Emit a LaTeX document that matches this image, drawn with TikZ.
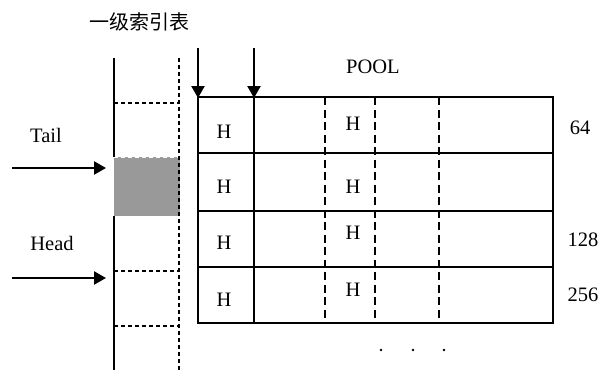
\documentclass[tikz,border=0pt]{standalone}
\usepackage{fontspec}
\setmainfont{Liberation Serif}
\newfontfamily\cjk{Noto Sans CJK SC}
\usetikzlibrary{arrows.meta}
\begin{document}
\begin{tikzpicture}[x=1pt,y=-1pt,
  lbl/.style={inner sep=0pt,font=\fontsize{20.5}{22}\selectfont},
  thick line/.style={line width=2.5pt},
  pooldash/.style={line width=2.5pt,dash pattern=on 8pt off 4.5pt},
  idxdash/.style={line width=1.3pt,dash pattern=on 4pt off 3pt},
  arr/.style={line width=2.4pt,-{Triangle[length=12pt,width=13pt]}},
  dot/.style={circle,fill=black,inner sep=0pt,minimum size=2.6pt}]
\useasboundingbox (0,0) rectangle (607,370);
% title
\node[inner sep=0pt,font=\cjk\fontsize{20}{22}\selectfont] (title) at (139,22) {一级索引表};
% index column
\fill[fill={rgb,255:red,153;green,153;blue,153}] (114,157) rectangle (180,216);
\draw[idxdash,white] (114,157.5) -- (180,157.5);
\draw[idxdash] (179,58) -- (179,370);
\draw[idxdash] (114,103) -- (179,103);
\draw[idxdash] (114,271) -- (179,271);
\draw[idxdash] (114,326) -- (179,326);
\draw[line width=2.4pt] (114,58) -- (114,157) (114,216) -- (114,370);
% tail/head
\node[lbl] (tail) at (46,135) {Tail};
\node[lbl] (head) at (52,243) {Head};
\coordinate (ts) at (12,168); \coordinate (te) at (106,168);
\coordinate (hs) at (12,278); \coordinate (he) at (106,278);
\draw[arr] (ts) -- (te);
\draw[arr] (hs) -- (he);
% pool grid
\foreach \y in {97,153,211,267,323} \draw[thick line] (196.75,\y) -- (554.25,\y);
\draw[thick line] (198,97) -- (198,323);
\draw[thick line] (254,97) -- (254,323);
\draw[thick line] (553,97) -- (553,323);
\foreach \x in {325,375,439} \draw[pooldash] (\x,97) -- (\x,323);
% down arrows
\coordinate (a1s) at (198,48); \coordinate (a1e) at (198,98);
\coordinate (a2s) at (254,48); \coordinate (a2e) at (254,98);
\draw[arr] (a1s) -- (a1e);
\draw[arr] (a2s) -- (a2e);
\node[lbl] (pool) at (373,67) {POOL};
% H labels
\node[lbl] (h11) at (224,132) {H};
\node[lbl] (h21) at (224,187) {H};
\node[lbl] (h31) at (224,243) {H};
\node[lbl] (h41) at (224,300) {H};
\node[lbl] (h13) at (353,124) {H};
\node[lbl] (h23) at (353,187) {H};
\node[lbl] (h33) at (353,233) {H};
\node[lbl] (h43) at (353,290) {H};
% sizes
\node[lbl] (s64) at (580,128) {64};
\node[lbl] (s128) at (583,240) {128};
\node[lbl] (s256) at (583,295) {256};
% dots
\node[dot] (d1) at (381,350) {};
\node[dot] (d2) at (413,350) {};
\node[dot] (d3) at (444,350) {};
\end{tikzpicture}
\end{document}
